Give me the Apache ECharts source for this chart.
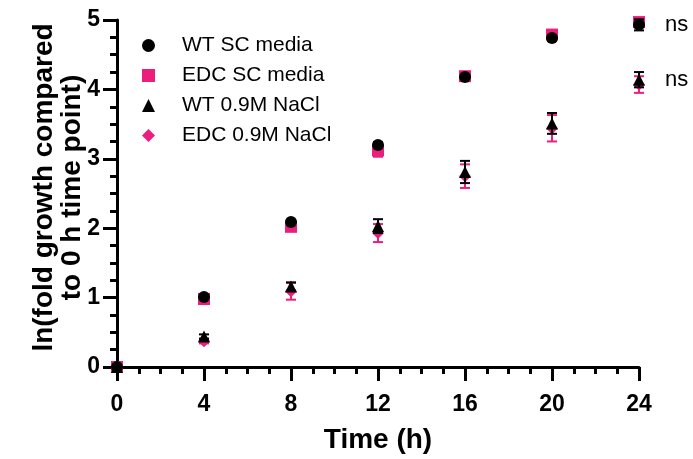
<!DOCTYPE html>
<html>
<head>
<meta charset="utf-8">
<script src="https://cdn.jsdelivr.net/npm/echarts@6/dist/echarts.min.js"></script>
<style>html,body{margin:0;padding:0;background:#fff}#c{width:693px;height:459px}</style>
</head>
<body>
<div id="c"></div>
<script>
var times = [0, 4, 8, 12, 16, 20, 24];
var seriesNames = ['WT SC media', 'EDC SC media', 'WT 0.9M NaCl', 'EDC 0.9M NaCl'];
var wtSC = [0, 1.01, 2.09, 3.20, 4.18, 4.74, 4.93];
var wtSCErr = [0, 0.03, 0.03, 0.04, 0.03, 0.04, 0.08];
var edcSC = [0, 0.98, 2.02, 3.12, 4.19, 4.79, 4.97];
var edcSCErr = [0, 0.03, 0.04, 0.09, 0.04, 0.04, 0.05];
var wtNaCl = [0, 0.44, 1.16, 2.03, 2.81, 3.51, 4.14];
var wtNaClErr = [0, 0.03, 0.06, 0.10, 0.16, 0.15, 0.11];
var edcNaCl = [0, 0.37, 1.09, 1.93, 2.75, 3.44, 4.07];
var edcNaClErr = [0, 0.03, 0.12, 0.13, 0.17, 0.19, 0.12];
var sigLabels = ['ns', 'ns'];
var xTicks = [0, 4, 8, 12, 16, 20, 24];
var yTicks = [0, 1, 2, 3, 4, 5];

var BLACK = '#000000';
var PINK = '#EB1E7D';
var FONT = 'Liberation Sans, Arial, sans-serif';

function pts(vals, lastLabel) {
  return times.map(function (t, i) {
    var d = { value: [t, vals[i]] };
    if (lastLabel && i === times.length - 1) {
      d.label = { show: true, formatter: lastLabel, position: 'right', distance: 20,
        color: BLACK, fontSize: 22, fontFamily: FONT };
    }
    return d;
  });
}
function errData(vals, errs) {
  return times.map(function (t, i) { return [t, vals[i] - errs[i], vals[i] + errs[i]]; });
}
function errSeries(vals, errs, color, z) {
  return {
    type: 'custom', z: z, silent: true,
    data: errData(vals, errs),
    renderItem: function (params, api) {
      var x = api.value(0);
      var lo = api.coord([x, api.value(1)]);
      var hi = api.coord([x, api.value(2)]);
      var hw = 5;
      var st = { stroke: color, lineWidth: 2 };
      return { type: 'group', children: [
        { type: 'line', shape: { x1: lo[0], y1: lo[1], x2: hi[0], y2: hi[1] }, style: st },
        { type: 'line', shape: { x1: lo[0] - hw, y1: lo[1], x2: lo[0] + hw, y2: lo[1] }, style: st },
        { type: 'line', shape: { x1: hi[0] - hw, y1: hi[1], x2: hi[0] + hw, y2: hi[1] }, style: st }
      ]};
    }
  };
}

var chart = echarts.init(document.getElementById('c'), null, { renderer: 'canvas' });
chart.setOption({
  backgroundColor: '#fff',
  animation: false,
  grid: { left: 117, right: 54, top: 20, bottom: 92, containLabel: false },
  legend: {
    orient: 'vertical', left: 137, top: 30, selectedMode: false,
    itemWidth: 13, itemHeight: 13, itemGap: 9,
    textStyle: { color: BLACK, fontSize: 21, fontFamily: FONT, padding: [0, 0, 0, 22] },
    data: seriesNames
  },
  xAxis: {
    type: 'value', min: xTicks[0], max: xTicks[xTicks.length - 1], interval: 4,
    name: 'Time (h)', nameLocation: 'middle', nameGap: 59, nameMoveOverlap: false,
    nameTextStyle: { color: BLACK, fontSize: 28, fontWeight: 'bold', fontFamily: FONT },
    axisLine: { show: true, onZero: false, lineStyle: { color: BLACK, width: 3 } },
    axisTick: { show: true, inside: false, length: 14, lineStyle: { color: BLACK, width: 3 } },
    minorTick: { show: true, splitNumber: 4, length: 7, lineStyle: { color: BLACK, width: 3 } },
    axisLabel: { color: BLACK, fontSize: 23, fontWeight: 'bold', fontFamily: FONT, margin: 26 },
    splitLine: { show: false }, minorSplitLine: { show: false }
  },
  yAxis: {
    type: 'value', min: yTicks[0], max: yTicks[yTicks.length - 1], interval: 1,
    name: 'ln(fold growth compared\nto 0 h time point)', nameLocation: 'middle', nameGap: 31,
    nameMoveOverlap: false,
    nameTextStyle: { color: BLACK, fontSize: 28, fontWeight: 'bold', fontFamily: FONT, lineHeight: 28,
      padding: [0, 0, 0, 12] },
    axisLine: { show: true, onZero: false, lineStyle: { color: BLACK, width: 3 } },
    axisTick: { show: true, inside: false, length: 14, lineStyle: { color: BLACK, width: 3 } },
    minorTick: { show: true, splitNumber: 4, length: 7, lineStyle: { color: BLACK, width: 3 } },
    axisLabel: { color: BLACK, fontSize: 23, fontWeight: 'bold', fontFamily: FONT, margin: 17 },
    splitLine: { show: false }, minorSplitLine: { show: false }
  },
  series: [
    errSeries(edcSC, edcSCErr, PINK, 1),
    errSeries(edcNaCl, edcNaClErr, PINK, 1),
    { name: seriesNames[1], type: 'scatter', z: 2, symbol: 'rect', symbolSize: 12,
      itemStyle: { color: PINK, opacity: 1 }, data: pts(edcSC) },
    { name: seriesNames[3], type: 'scatter', z: 2, symbol: 'diamond', symbolSize: 12,
      itemStyle: { color: PINK, opacity: 1 }, data: pts(edcNaCl) },
    errSeries(wtSC, wtSCErr, BLACK, 3),
    errSeries(wtNaCl, wtNaClErr, BLACK, 3),
    { name: seriesNames[0], type: 'scatter', z: 4, symbol: 'circle', symbolSize: 12,
      itemStyle: { color: BLACK, opacity: 1 }, data: pts(wtSC, sigLabels[0]) },
    { name: seriesNames[2], type: 'scatter', z: 4, symbol: 'triangle', symbolSize: 12,
      itemStyle: { color: BLACK, opacity: 1 }, data: pts(wtNaCl, sigLabels[1]) }
  ]
});
</script>
</body>
</html>
